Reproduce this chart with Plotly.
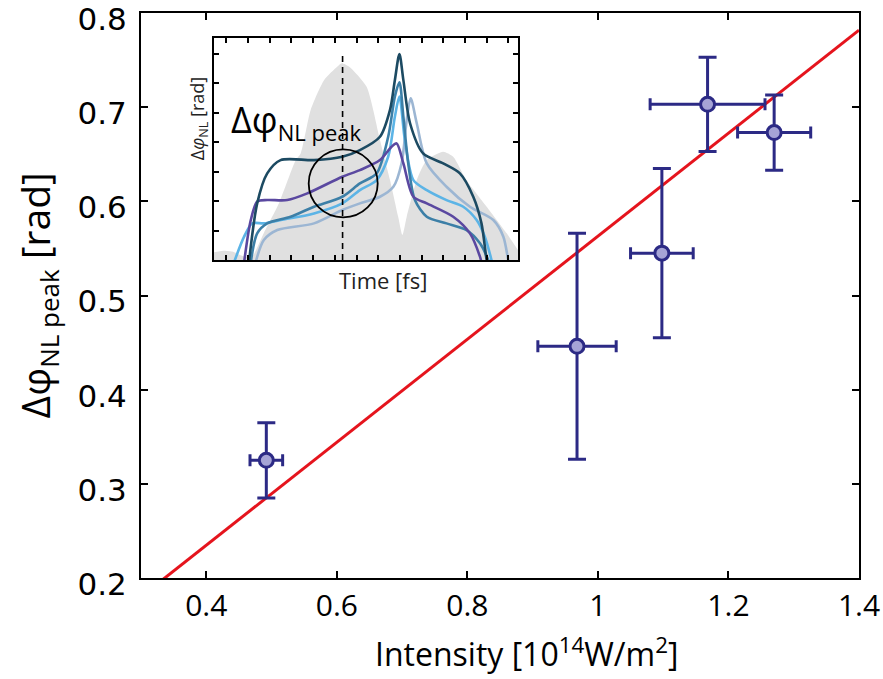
import plotly.graph_objects as go

# ---- main data: peak nonlinear phase vs. intensity ----
intensity = [0.492, 0.968, 1.098, 1.168, 1.270]
intensity_err = [0.025, 0.060, 0.048, 0.088, 0.056]
phase_peak = [0.325, 0.446, 0.545, 0.703, 0.673]
phase_err = [0.040, 0.120, 0.090, 0.050, 0.040]

# linear fit
fit_slope = 0.547
fit_intercept = 0.016
fit_x = [0.30, 1.40]

x_ticks = [0.4, 0.6, 0.8, 1.0, 1.2, 1.4]
x_ticklabels = ["0.4", "0.6", "0.8", "1", "1.2", "1.4"]
y_ticks = [0.2, 0.3, 0.4, 0.5, 0.6, 0.7, 0.8]
y_ticklabels = ["0.2", "0.3", "0.4", "0.5", "0.6", "0.7", "0.8"]

# ---- inset data (arbitrary units): pulse intensity and NL phase traces ----
pulse_t = [0, 3, 6, 9, 11, 12.5, 16.4, 21.4, 26.9, 28.5, 31.8, 36.2, 40.6, 42, 44.5, 50.2,
           54.6, 57.9, 60.6, 62, 63.4, 66.7, 70, 75.4, 78.7, 83, 89.7, 96.3, 100]
pulse_v = [3.5, 4.2, 3.8, 2.0, 1.2, 1.4, 12.2, 25.7, 45, 48, 67.6, 81, 87.1, 88.6, 87, 78,
           54, 36, 19.5, 11.3, 19.5, 36, 45, 48.8, 46.5, 36, 24, 12, 4.5]

trace_a_t = [11.5, 14.2, 17.5, 21.9, 32.9, 42.2, 48, 54.6, 57.9, 59.5, 61, 62.3, 64.5, 68.8,
             75.4, 80.9, 85.3, 88, 89.7, 90.5]
trace_a_v = [-1, 25.5, 39, 45, 45, 46.5, 49.5, 55.5, 67.6, 81, 92.8, 81, 61.6, 48,
             43.5, 39, 28.5, 16.5, 0, -5]

trace_b_t = [9.9, 12.1, 14.2, 17.5, 24.1, 30.7, 42.2, 48, 54.6, 58.4, 60.1, 62.3, 65.6, 70,
             78.7, 84.2, 87.5, 88.5]
trace_b_v = [-1, 18, 26.3, 27, 27, 30, 37.5, 40.5, 45, 51, 52.5, 43.5, 28.5, 25.5,
             19.5, 12, 1.5, -4]

trace_c_t = [12.1, 14.2, 17.5, 25.2, 32.9, 42.2, 48, 53.5, 57.3, 59.5, 61, 62.3, 63.9, 66.1,
             70, 76.5, 83.1, 87.5, 90.2, 91]
trace_c_v = [-1, 12, 16.5, 19.5, 24, 28.5, 34.5, 39, 55.5, 73.6, 80, 64.5, 43.5, 27,
             19.5, 16.5, 13.5, 7.5, 0, -4]

trace_d_t = [6.6, 9.9, 12.6, 16.4, 22, 32.9, 42.2, 48, 53.5, 57.3, 59.5, 61, 62.8, 65.6,
             70, 76.5, 82, 86.4, 89.1, 91.3, 92]
trace_d_v = [-1, 10.5, 16.5, 16.5, 18, 21, 25.5, 31.5, 36, 46.5, 64.5, 73.6, 54, 36,
             31.5, 27, 24, 18, 10.5, 0, -4]

trace_e_t = [13.7, 16.4, 20.8, 32.9, 42.2, 48, 54.6, 59, 61.7, 63.4, 64.7, 66.7, 70, 76.5,
             84.2, 91.9, 95.2, 96.8, 97.5]
trace_e_v = [-1, 9, 13.5, 16.5, 22.5, 25.5, 28.5, 33, 43.5, 63, 72.8, 61.6, 43.5, 33,
             24, 18, 10.5, 0, -4]

peak_time = 42.3
peak_circle_center = (42.5, 34.5)
peak_circle_radius = (11.35, 15.3)

NAVY = "#2c2a85"
FILL = "#a6a4d6"
RED = "#e5141d"

fig = go.Figure()

# fitted line
fig.add_trace(go.Scatter(
    x=fit_x, y=[fit_slope * v + fit_intercept for v in fit_x],
    mode="lines", line=dict(color=RED, width=3), hoverinfo="skip",
    xaxis="x", yaxis="y", showlegend=False,
))

# measurements with error bars
fig.add_trace(go.Scatter(
    x=intensity, y=phase_peak, mode="markers",
    marker=dict(size=14, color=FILL, line=dict(color=NAVY, width=3)),
    error_x=dict(type="data", array=intensity_err, color=NAVY, thickness=3, width=6),
    error_y=dict(type="data", array=phase_err, color=NAVY, thickness=3, width=9),
    xaxis="x", yaxis="y", showlegend=False,
))

# inset: pulse envelope
fig.add_trace(go.Scatter(
    x=pulse_t, y=pulse_v, mode="lines", fill="tozeroy",
    fillcolor="#e0e0e0", line=dict(color="#e0e0e0", width=0, shape="spline", smoothing=0.6),
    xaxis="x2", yaxis="y2", showlegend=False, hoverinfo="skip",
))

inset_traces = [
    (trace_e_t, trace_e_v, "#9cb6d3"),
    (trace_d_t, trace_d_v, "#5cb4e6"),
    (trace_c_t, trace_c_v, "#3c7fa7"),
    (trace_b_t, trace_b_v, "#5a48a0"),
    (trace_a_t, trace_a_v, "#1c4a62"),
]
for tt, vv, col in inset_traces:
    fig.add_trace(go.Scatter(
        x=tt, y=vv, mode="lines",
        line=dict(color=col, width=2.6, shape="spline", smoothing=0.8),
        xaxis="x2", yaxis="y2", showlegend=False, hoverinfo="skip",
    ))

# dashed marker at the pulse peak and circle around the peak phase
fig.add_shape(type="line", xref="x2", yref="y2", x0=peak_time, x1=peak_time, y0=0, y1=94,
              line=dict(color="black", width=1.6, dash="6px,5px"), layer="above")
cx, cy = peak_circle_center
rx, ry = peak_circle_radius
fig.add_shape(type="circle", xref="x2", yref="y2", x0=cx - rx, x1=cx + rx, y0=cy - ry, y1=cy + ry,
              line=dict(color="black", width=1.8), layer="above")

fig.add_annotation(
    text="Δφ<sub><span style='font-size:22px'>NL peak</span></sub>",
    xref="paper", yref="paper", x=0.1226, y=0.808, xanchor="left", yanchor="middle",
    showarrow=False, font=dict(family="Open Sans", size=36, color="black"),
)
fig.add_annotation(
    text="Time [fs]", xref="paper", yref="paper", x=0.337, y=0.527,
    xanchor="center", yanchor="middle", showarrow=False,
    font=dict(family="Open Sans", size=22, color="#222"),
)
fig.add_annotation(
    text="Δ<i>φ</i><sub>NL</sub> [rad]", xref="paper", yref="paper", x=0.0795, y=0.812,
    xanchor="center", yanchor="middle", textangle=-90, showarrow=False,
    font=dict(family="Open Sans", size=18, color="#222"),
)

# main axis titles
fig.add_annotation(
    text="Intensity [10<sup>14</sup>W/m<sup>2</sup>]", xref="paper", yref="paper",
    x=0.5376, y=-0.131, xanchor="center", yanchor="middle", showarrow=False,
    font=dict(family="Open Sans", size=32, color="black"),
)
fig.add_annotation(
    text="Δφ<sub><span style='font-size:26px'>NL peak</span></sub> [rad]",
    xref="paper", yref="paper", x=-0.145, y=0.5, xanchor="center", yanchor="middle",
    textangle=-90, showarrow=False,
    font=dict(family="Open Sans", size=39, color="black"),
)

axis_common = dict(
    showline=True, linecolor="black", linewidth=2, mirror="ticks",
    ticks="inside", tickcolor="black", showgrid=False, zeroline=False,
)

fig.update_layout(
    width=883, height=679,
    margin=dict(l=141, r=24, t=13, b=101, autoexpand=False),
    paper_bgcolor="white", plot_bgcolor="white",
    xaxis=dict(
        range=[0.3, 1.4], tickvals=x_ticks, ticktext=x_ticklabels,
        ticklen=7, tickwidth=2, automargin=False, ticklabeloverflow="allow",
        tickfont=dict(family="Open Sans", size=30, color="black"),
        **axis_common,
    ),
    yaxis=dict(
        range=[0.2, 0.8], tickvals=y_ticks, ticktext=y_ticklabels,
        ticklen=7, tickwidth=2, automargin=False, ticklabeloverflow="allow",
        ticklabelstandoff=6, ticklabelshift=6,
        tickfont=dict(family="DejaVu Sans", size=31, color="black"),
        **axis_common,
    ),
    xaxis2=dict(
        domain=[0.1017, 0.525], anchor="y2", range=[0, 100],
        ticklen=5, tickwidth=1.5, tick0=4.1, dtick=7.13, showticklabels=False,
        automargin=False, **axis_common,
    ),
    yaxis2=dict(
        domain=[0.5628, 0.9558], anchor="x2", range=[0, 100],
        ticklen=5, tickwidth=1.5, tick0=13.2, dtick=13.3, showticklabels=False,
        automargin=False, **axis_common,
    ),
)

fig.write_html("out.html")
